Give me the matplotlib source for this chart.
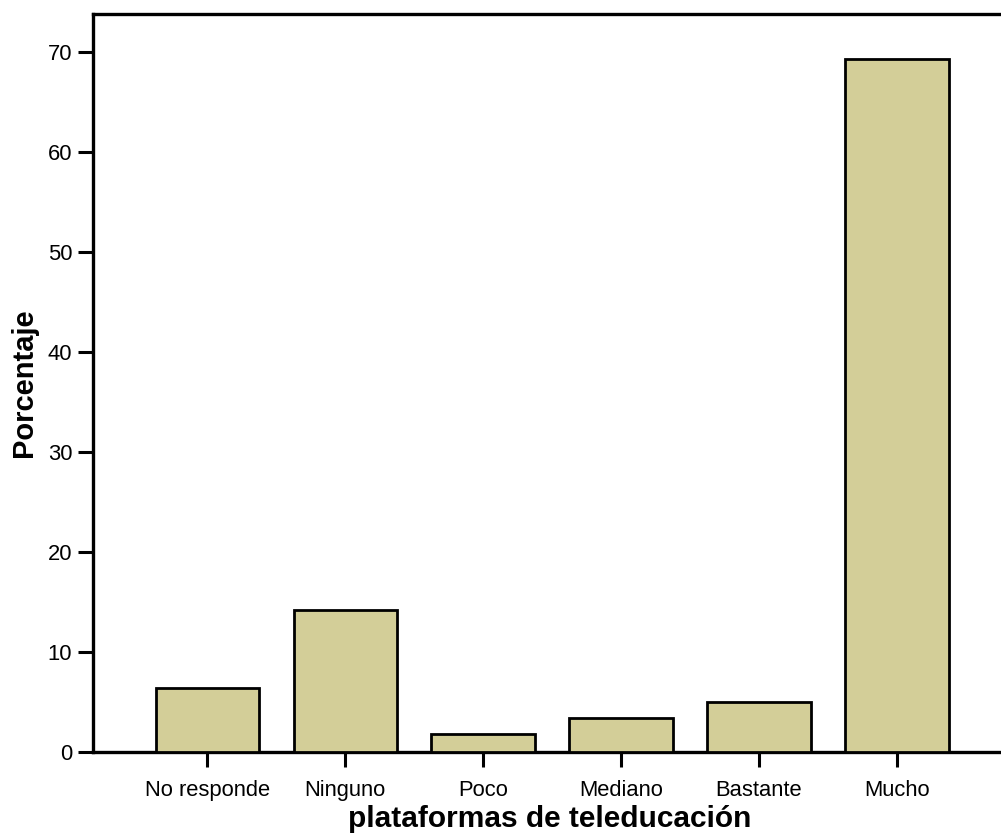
import matplotlib
matplotlib.use("Agg")
import matplotlib.pyplot as plt

categories = ["No responde", "Ninguno", "Poco", "Mediano", "Bastante", "Mucho"]
values = [6.4, 14.2, 1.8, 3.4, 5.0, 69.3]
yticks = [0, 10, 20, 30, 40, 50, 60, 70]

plt.rcParams['font.family'] = ['Liberation Sans', 'DejaVu Sans']

fig = plt.figure(figsize=(10.01, 8.39), dpi=100)
ax_w = 1 - 93/1001 + 0.002
ax = fig.add_axes([93/1001, 1-752/839, ax_w, (752-14)/839])

x = list(range(len(categories)))
ax.bar(x, values, width=0.75, color="#D3CE98", edgecolor="black", linewidth=2, zorder=3)

ax.set_xlim(-0.83, 5.77)
ax.set_ylim(0, 73.8)
ax.set_yticks(yticks)
ax.set_xticks(x)
ax.set_xticklabels(categories)
for s in ["left", "top", "bottom"]:
    ax.spines[s].set_linewidth(2.4)
ax.spines["right"].set_visible(False)
ax.tick_params(axis="both", direction="out", length=11, width=2.2, labelsize=15.8, color="black")
ax.tick_params(axis="x", pad=9)
ax.tick_params(axis="y", pad=4)

ax.set_xlabel("plataformas de teleducación", fontsize=21.5, fontweight="bold")
ax.set_ylabel("Porcentaje", fontsize=21, fontweight="bold", labelpad=7)
ax.xaxis.set_label_coords((550 - 93) / (ax_w * 1001), -0.072)

fig.savefig("out.png", dpi=100)
